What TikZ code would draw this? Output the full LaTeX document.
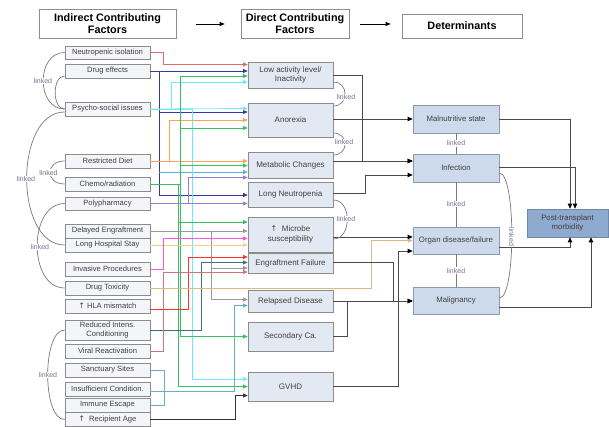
\documentclass[tikz,border=0pt]{standalone}
\usepackage{fontspec}
\setmainfont{Liberation Sans}
\newfontfamily\arrfont{DejaVu Sans}
\usetikzlibrary{arrows.meta,calc}
\definecolor{bordc}{HTML}{8C8C8C}
\definecolor{lfill}{HTML}{F3F5F8}
\definecolor{dfill}{HTML}{E3E9F2}
\definecolor{tfill}{HTML}{CCDAEC}
\definecolor{tbord}{HTML}{8C9AAE}
\definecolor{pfill}{HTML}{8EAACE}
\definecolor{pbord}{HTML}{7088A8}
\definecolor{txtc}{HTML}{404040}
\definecolor{linkgray}{HTML}{7A7A7A}
\definecolor{lkcol}{HTML}{7E6E8E}
\definecolor{darkln}{HTML}{4A4A4A}
\definecolor{cRedA}{HTML}{E06A6A}
\definecolor{cNavy}{HTML}{3A36A0}
\definecolor{cCyan}{HTML}{6EEAF6}
\definecolor{cGreen}{HTML}{38C060}
\definecolor{cOrange}{HTML}{FFA05E}
\definecolor{cPurple}{HTML}{9A80C8}
\definecolor{cLBlue}{HTML}{58AEDC}
\definecolor{cGray}{HTML}{999999}
\definecolor{cYell}{HTML}{F8D08C}
\definecolor{cPink}{HTML}{FF55DD}
\definecolor{cRed}{HTML}{FF3030}
\definecolor{cTeal}{HTML}{3F7282}
\definecolor{cBrown}{HTML}{C87878}
\definecolor{cTan}{HTML}{D8BA86}
\definecolor{cSteel}{HTML}{6AAEC6}
\definecolor{cBlack}{HTML}{333333}
\newcommand\myup{{\arrfont ↑}}
\begin{document}
\begin{tikzpicture}[x=1pt,y=-1pt,
 lbox/.style={draw=bordc, fill=lfill, line width=0.7pt, minimum width=85pt, inner sep=1pt, font=\fontsize{7.6}{8.6}\selectfont, text=txtc, align=center},
 dbox/.style={draw=bordc, fill=dfill, line width=0.7pt, minimum width=85pt, inner sep=1pt, font=\fontsize{8}{9.6}\selectfont, text=txtc, align=center},
 tbox/.style={draw=tbord, fill=tfill, line width=0.7pt, minimum width=86pt, inner sep=1pt, font=\fontsize{7.8}{9}\selectfont, text=txtc, align=center},
 pbox/.style={draw=pbord, fill=pfill, line width=0.7pt, minimum width=81pt, minimum height=28pt, inner sep=1pt, font=\fontsize{7.8}{9.4}\selectfont, text=txtc, align=center},
 hbox/.style={draw=bordc, fill=white, line width=0.7pt, inner sep=1pt, font=\bfseries\fontsize{10.8}{12}\selectfont, text=black, align=center},
 conn/.style={line width=0.75pt, -{Triangle[length=4.5pt,width=4pt]}},
 plainc/.style={line width=0.75pt},
 blk/.style={draw=darkln, line width=0.8pt, -{Triangle[length=5pt,width=4.5pt,color=black]}},
 blkline/.style={draw=darkln, line width=0.8pt},
 harrow/.style={draw=black, line width=0.7pt, -{Triangle[length=5pt,width=4pt]}},
 linkc/.style={draw=linkgray, line width=0.7pt},
 lktxt/.style={font=\fontsize{7}{8}\selectfont, text=lkcol, fill=white, inner sep=0.6pt}
]
\useasboundingbox (0,0) rectangle (609,427);

% header
\node[hbox, minimum width=137pt, minimum height=29pt] (h1) at (107.5,23.5) {Indirect Contributing\\Factors};
\node[hbox, minimum width=108pt, minimum height=29pt] (h2) at (295,23.5) {Direct Contributing\\Factors};
\node[hbox, minimum width=120pt, minimum height=24pt] (h3) at (462,26) {Determinants};
\draw[harrow, shorten <=20pt, shorten >=16pt] (h1.east |- 0,24) -- (h2.west |- 0,24);
\draw[harrow, shorten <=11pt, shorten >=11pt] (h2.east |- 0,24) -- (h3.west |- 0,24);

% left boxes
\node[lbox, minimum height=13pt] (ni) at (107.5,52.5) {Neutropenic isolation};
\node[lbox, minimum height=14pt] (de) at (107.5,71) {Drug effects};
\node[lbox, minimum height=14pt] (ps) at (107.5,109) {Psycho-social issues};
\node[lbox, minimum height=14pt] (rd) at (107.5,161) {Restricted Diet};
\node[lbox, minimum height=14pt] (cr) at (107.5,184) {Chemo/radiation};
\node[lbox, minimum height=13pt] (pp) at (107.5,203.5) {Polypharmacy};
\node[lbox, minimum height=14pt] (dg) at (107.5,231) {Delayed Engraftment};
\node[lbox, minimum height=14pt] (lh) at (107.5,245) {Long Hospital Stay};
\node[lbox, minimum height=14pt] (ip) at (107.5,269) {Invasive Procedures};
\node[lbox, minimum height=14pt] (dt) at (107.5,288) {Drug Toxicity};
\node[lbox, minimum height=14pt] (hl) at (107.5,306) {\myup\ HLA mismatch};
\node[lbox, minimum height=20pt] (ri) at (107.5,330) {Reduced Intens.\\Conditioning};
\node[lbox, minimum height=14pt] (vr) at (107.5,351) {Viral Reactivation};
\node[lbox, minimum height=14pt] (ss) at (107.5,370) {Sanctuary Sites};
\node[lbox, minimum height=14pt] (ic) at (107.5,389) {Insufficient Condition.};
\node[lbox, minimum height=14pt] (ie) at (107.5,405) {Immune Escape};
\node[lbox, minimum height=14pt] (ra) at (107.5,419.5) {\myup\ \ Recipient Age};

% direct boxes
\node[dbox, minimum height=26pt] (la) at (290.5,75) {Low activity level/\\Inactivity};
\node[dbox, minimum height=34pt] (an) at (290.5,120) {Anorexia};
\node[dbox, minimum height=26pt] (mc) at (290.5,165) {Metabolic Changes};
\node[dbox, minimum height=25pt] (ln) at (290.5,194.5) {Long Neutropenia};
\node[dbox, minimum height=35pt] (ms) at (290.5,234.5) {\myup\ \ Microbe\\susceptibility};
\node[dbox, minimum height=20pt] (ef) at (290.5,263) {Engraftment Failure};
\node[dbox, minimum height=22pt] (rl) at (290.5,301) {Relapsed Disease};
\node[dbox, minimum height=29pt] (sc) at (290.5,336.5) {Secondary Ca.};
\node[dbox, minimum height=29pt] (gv) at (290.5,386.5) {GVHD};

% determinants
\node[tbox, minimum height=28pt] (mn) at (456,119) {Malnutritive state};
\node[tbox, minimum height=28pt] (in) at (456,168) {Infection};
\node[tbox, minimum height=27pt] (od) at (456,240.5) {Organ disease/failure};
\node[tbox, minimum height=27pt] (mg) at (456,300.5) {Malignancy};
\node[pbox] (pt) at (567.5,223) {Post-transplant\\morbidity};

% bus coordinates
\coordinate (navybus) at ($(de.east)+(9,0)$);

% coloured connectors: indirect -> direct
\draw[conn, cRedA] (ni.east) -- ++(13,0) |- (la.west |- 0,64.5);
\draw[conn, cNavy] (de.east) -- (la.west |- de.east);
\draw[conn, cNavy] (navybus) |- (an.west |- 0,112);
\draw[conn, cNavy] (navybus) |- (ln.west |- 0,195);
\draw[conn, cLBlue] (navybus |- 0,172) -- (mc.west |- 0,172);
\draw[conn, cCyan] (ps.east) -- (an.west |- 0,108.5);
\draw[conn, cCyan] (ps.east) -- ++(21,0) |- (la.west |- 0,82);
\draw[conn, cCyan] (ps.east) -- ++(42,0) |- (gv.west |- 0,379);
\draw[conn, cOrange] (rd.east) -- (mc.west |- rd.east);
\draw[conn, cOrange] (rd.east) -- ++(19,0) |- (an.west |- 0,120);
\draw[conn, cGreen] (cr.east) -- ++(30,0) |- (la.west |- 0,76);
\draw[conn, cGreen] (cr.east) -- ++(30,0) |- (an.west |- 0,128);
\draw[conn, cGreen] (cr.east) -- ++(30,0) |- (mc.west |- 0,165.5);
\draw[conn, cGreen] (cr.east) -- ++(28,0) |- (ms.west |- 0,222);
\draw[conn, cGreen] (cr.east) -- ++(30,0) |- (sc.west |- 0,336.5);
\draw[conn, cGreen] (cr.east) -- ++(28,0) |- (gv.west |- 0,386.5);
\draw[conn, cPurple] (pp.east) -- (ln.west |- pp.east);
\draw[conn, cPurple] (pp.east) -- ++(38,0) |- (mc.west |- 0,177.5);
\draw[conn, cGray] (dg.east) -- (ms.west |- dg.east);
\draw[conn, cGray] (dg.east) -- ++(61,0) |- (ef.west |- 0,268);
\draw[conn, cGray] (dg.east) -- ++(61,0) |- (rl.west |- 0,299.5);
\draw[conn, cYell] (lh.east) -- (ms.west |- lh.east);
\draw[conn, cPink] (ip.east) -- ++(13,0) |- (ms.west |- 0,238.5);
\draw[conn, cRed] (hl.east |- 0,309) -- ++(38,0) |- (ef.west |- 0,257);
\draw[conn, cTeal] (ri.east) -- ++(51,0) |- (ef.west |- 0,262.5);
\draw[conn, cBrown] (vr.east) -- ++(13,0) |- (ef.west |- 0,272);
\draw[conn, cTan] (dt.east) -- ++(221,0) |- (od.west |- 0,240.5);
\draw[plainc, cSteel] (ss.east) -- ++(14,0) |- (ie.east);
\draw[conn, cSteel] (ic.east |- 0,391) -- ++(84,0) |- (rl.west |- 0,305.5);
\draw[conn, cBlack] (ra.east) -- ++(85,0) |- (gv.west |- 0,395.5);

% direct -> determinants
\draw[blk] (la.east) -- ++(29,0) |- (in.west |- 0,161);
\draw[blk] (mc.east |- 0,161) -- (in.west |- 0,161);
\draw[blk] (an.east |- 0,119) -- (mn.west |- 0,119);
\draw[blk] (ln.east |- 0,193) -- ++(32,0) |- (in.west |- 0,175);
\draw[blk] (ms.east |- 0,237) -- (od.west |- 0,237);
\draw[blk] (ef.east |- 0,262) -- ++(60,0) |- (mg.west |- 0,301);
\draw[blk] (rl.east) -- (mg.west |- rl.east);
\draw[blkline] (rl.east) -- ++(14,0) |- (sc.east);
\draw[blk] (gv.east) -- ++(65,0) |- (od.west |- 0,251);

% determinants -> post-transplant
\draw[blk] (mn.east) -| ([xshift=2.5pt]pt.north);
\draw[blk] (in.east |- 0,167) -| ([xshift=7.5pt]pt.north);
\draw[blk] (od.east |- 0,247) -| ([xshift=2.5pt]pt.south);
\draw[blk] (mg.east |- 0,307) -| ([xshift=23.5pt]pt.south);

% linked arcs, left
\draw[linkc] (ni.west) .. controls (36,52.5) and (36,109) .. (ps.west);
\draw[linkc] (de.west |- 0,76) .. controls (52,76) and (52,109) .. (ps.west);
\draw[linkc] (ps.west |- 0,112) .. controls (14,112) and (14,245) .. (lh.west);
\draw[linkc] (rd.west) .. controls (45,161) and (45,184) .. (cr.west);
\draw[linkc] (pp.west) .. controls (28,203.5) and (28,288) .. (dt.west);
\draw[linkc] (ri.west) .. controls (42,330) and (42,419.5) .. (ra.west);
\node[lktxt] (lk1) at (43,81) {linked};
\node[lktxt] (lk2) at (26,179) {linked};
\node[lktxt] (lk3) at (48.5,172.5) {linked};
\node[lktxt] (lk4) at (40,247) {linked};
\node[lktxt] (lk5) at (48,375) {linked};

% linked arcs, direct
\draw[linkc] (la.east |- 0,82) .. controls (349,82) and (349,106) .. (an.east |- 0,106);
\draw[linkc] (an.east |- 0,133) .. controls (349,133) and (349,155) .. (mc.east |- 0,155);
\draw[linkc] (ln.east |- 0,200) .. controls (352,200) and (352,239) .. (ms.east |- 0,239);
\node[lktxt] (lk6) at (346,97) {linked};
\node[lktxt] (lk7) at (344,142) {linked};
\node[lktxt] (lk8) at (346,219) {linked};

% determinants links
\draw[linkc] (mn.south) -- (in.north);
\draw[linkc] (in.south) -- (od.north);
\draw[linkc] (od.south) -- (mg.north);
\node[lktxt] (lk9) at (456,143.5) {linked};
\node[lktxt] (lk10) at (456,204) {linked};
\node[lktxt] (lk11) at (456,270.5) {linked};
\draw[linkc] (in.east |- 0,173) .. controls (516,173) and (516,298) .. (mg.east |- 0,298);
\node[lktxt, rotate=-90] (lk12) at (511.5,237) {linked};
\end{tikzpicture}
\end{document}
